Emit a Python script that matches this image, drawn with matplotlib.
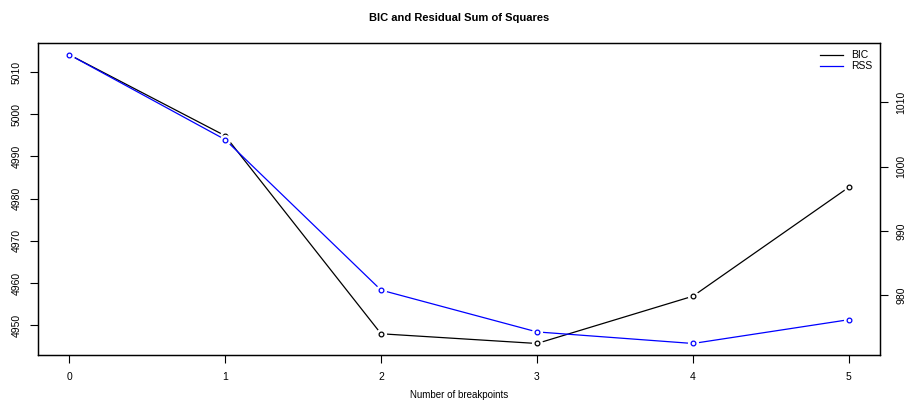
import numpy as np
import matplotlib
matplotlib.use("Agg")
import matplotlib.pyplot as plt

plt.rcParams['font.family'] = ['Liberation Sans', 'DejaVu Sans']

# datos
breakpoints = [0, 1, 2, 3, 4, 5]
bic = [5014.1, 4994.9, 4948.0, 4945.7, 4956.9, 4982.7]
rss = [1017.4, 1004.2, 980.8, 974.3, 972.5, 976.2]
bic_ticks = [4950, 4960, 4970, 4980, 4990, 5000, 5010]
rss_ticks = [980, 990, 1000, 1010]

fig = plt.figure(figsize=(9.09, 4.03), dpi=100)
ax = fig.add_axes([0.0418, 0.119, 0.9263, 0.774])
ax2 = ax.twinx()


def rango(v):
    d = (max(v) - min(v)) * 0.04
    return min(v) - d, max(v) + d


def serie(a, y, color):
    a.plot(breakpoints, y, color=color, lw=0.9, zorder=2)
    # hueco alrededor del punto, como type="b"
    a.plot(breakpoints, y, 'o', ms=7, mfc='white', mec='white', zorder=3)
    a.plot(breakpoints, y, 'o', ms=3.4, mfc='none', mec=color, mew=0.9, zorder=4)


serie(ax, bic, 'black')
serie(ax2, rss, 'blue')

ax.set_xlim(rango(breakpoints))
ax.set_ylim(rango(bic))
ax2.set_ylim(rango(rss))

ax.set_xticks(breakpoints)
ax.set_yticks(bic_ticks)
ax2.set_yticks(rss_ticks)

for a in (ax, ax2):
    a.tick_params(length=6, width=0.8, labelsize=7.5, pad=6)
    for s in a.spines.values():
        s.set_linewidth(0.9)
ax.tick_params(axis='y', labelrotation=90)
ax2.tick_params(axis='y', labelrotation=90)
for t in ax.get_yticklabels() + ax2.get_yticklabels():
    t.set_va('center')

ax.set_xlabel("Number of breakpoints", fontsize=7, labelpad=6)
ax.set_title("BIC and Residual Sum of Squares", fontsize=8, fontweight='bold', pad=16)

ax2.plot([], [], color='black', lw=0.9, label='BIC')
ax2.plot([], [], color='blue', lw=0.9, label='RSS')
ax2.legend(loc='upper right', frameon=False, fontsize=7.5, handlelength=2.2,
           borderaxespad=0.3, labelspacing=0.1)

fig.savefig("out.png", dpi=100)
